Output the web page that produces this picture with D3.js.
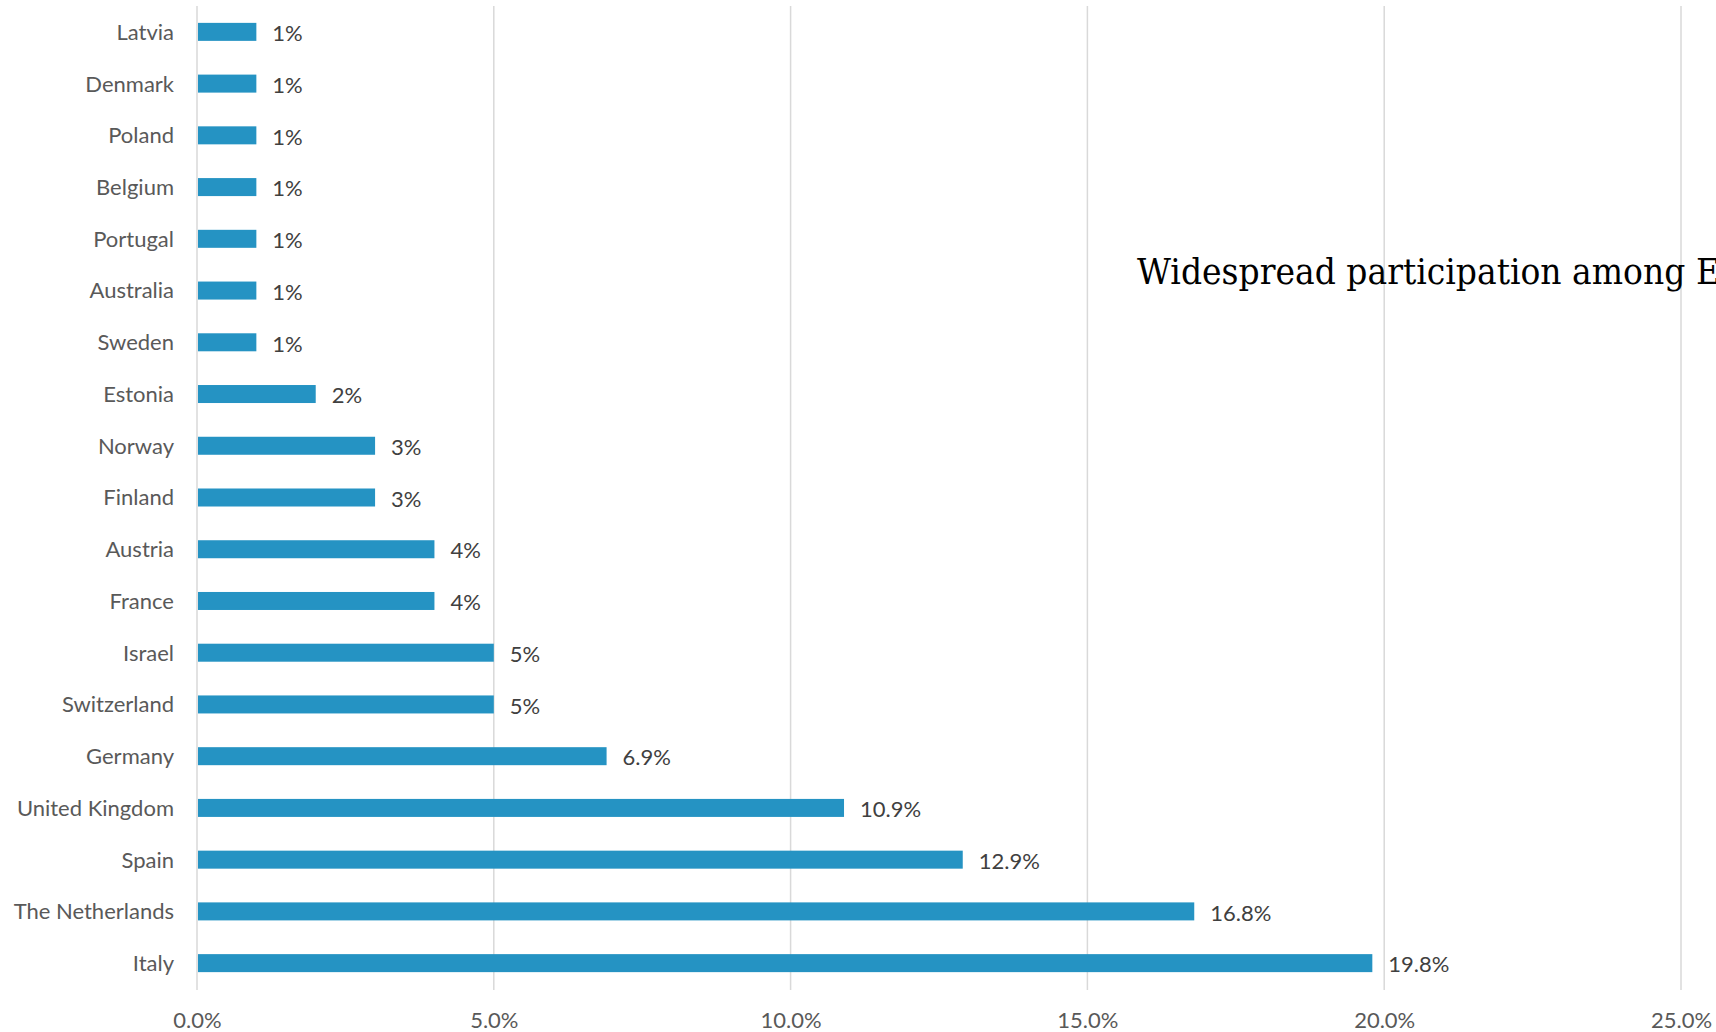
<!DOCTYPE html>
<html>
<head>
<meta charset="utf-8">
<script src="https://cdn.jsdelivr.net/npm/d3@7"></script>
<style>
  html, body { margin: 0; padding: 0; background: #fff; overflow: hidden; }
  svg { display: block; }
</style>
</head>
<body>
<svg id="chart" width="1716" height="1032"></svg>
<script>
const categories = ["Latvia","Denmark","Poland","Belgium","Portugal","Australia","Sweden","Estonia","Norway","Finland","Austria","France","Israel","Switzerland","Germany","United Kingdom","Spain","The Netherlands","Italy"];
const values = [1,1,1,1,1,1,1,2,3,3,4,4,5,5,6.9,10.9,12.9,16.8,19.8];
const valueLabels = ["1%","1%","1%","1%","1%","1%","1%","2%","3%","3%","4%","4%","5%","5%","6.9%","10.9%","12.9%","16.8%","19.8%"];
const tickValues = [0,5,10,15,20,25];
const tickLabels = ["0.0%","5.0%","10.0%","15.0%","20.0%","25.0%"];
const title = "Widespread participation among E";

(function () {
const svg = d3.select("#chart");
const mLeft = 197, mRight = 1681, mTop = 6, mBottom = 989;
const font = "Lato, 'Open Sans', sans-serif";

const x = d3.scaleLinear().domain([0, 25]).range([mLeft, mRight]);
const y = d3.scaleBand().domain(categories).range([mTop, mBottom]).paddingInner(0.652).paddingOuter(0.326);

// gridlines
svg.append("g").selectAll("line").data(tickValues).join("line")
  .attr("x1", d => x(d)).attr("x2", d => x(d))
  .attr("y1", mTop).attr("y2", mBottom + 1)
  .attr("stroke", "#d9d9d9").attr("stroke-width", 1.5);

// title (clipped at right edge, as in the reference)
svg.append("text")
  .attr("x", 1137).attr("y", 284)
  .attr("font-family", "'DejaVu Serif', serif")
  .attr("font-size", 35)
  .attr("textLength", 583).attr("lengthAdjust", "spacingAndGlyphs")
  .attr("fill", "#000")
  .text(title);

// bars
svg.append("g").selectAll("rect").data(categories).join("rect")
  .attr("x", x(0) + 1)
  .attr("y", d => y(d))
  .attr("width", (d, i) => x(values[i]) - x(0) - 1)
  .attr("height", y.bandwidth())
  .attr("fill", "#2593c3");

// value labels
svg.append("g").selectAll("text").data(categories).join("text")
  .attr("x", (d, i) => x(values[i]) + 16)
  .attr("y", d => y(d) + y.bandwidth() / 2)
  .attr("dy", "0.42em")
  .attr("font-family", font).attr("font-size", 22)
  .attr("fill", "#404040")
  .text((d, i) => valueLabels[i]);

// category axis
const yAxis = d3.axisLeft(y).tickSize(0).tickPadding(23);
const gy = svg.append("g").attr("transform", `translate(${mLeft},0)`).call(yAxis);
gy.select(".domain").remove();
gy.selectAll("text").attr("font-family", font).attr("font-size", 22).attr("fill", "#595959").attr("dy", "0.36em");

// x axis
const xAxis = d3.axisBottom(x).tickValues(tickValues).tickFormat((d, i) => tickLabels[i]).tickSize(0).tickPadding(23);
const gx = svg.append("g").attr("transform", `translate(0,${mBottom})`).call(xAxis);
gx.select(".domain").remove();
gx.selectAll("text").attr("font-family", font).attr("font-size", 22).attr("fill", "#595959");
})();
</script>
</body>
</html>
